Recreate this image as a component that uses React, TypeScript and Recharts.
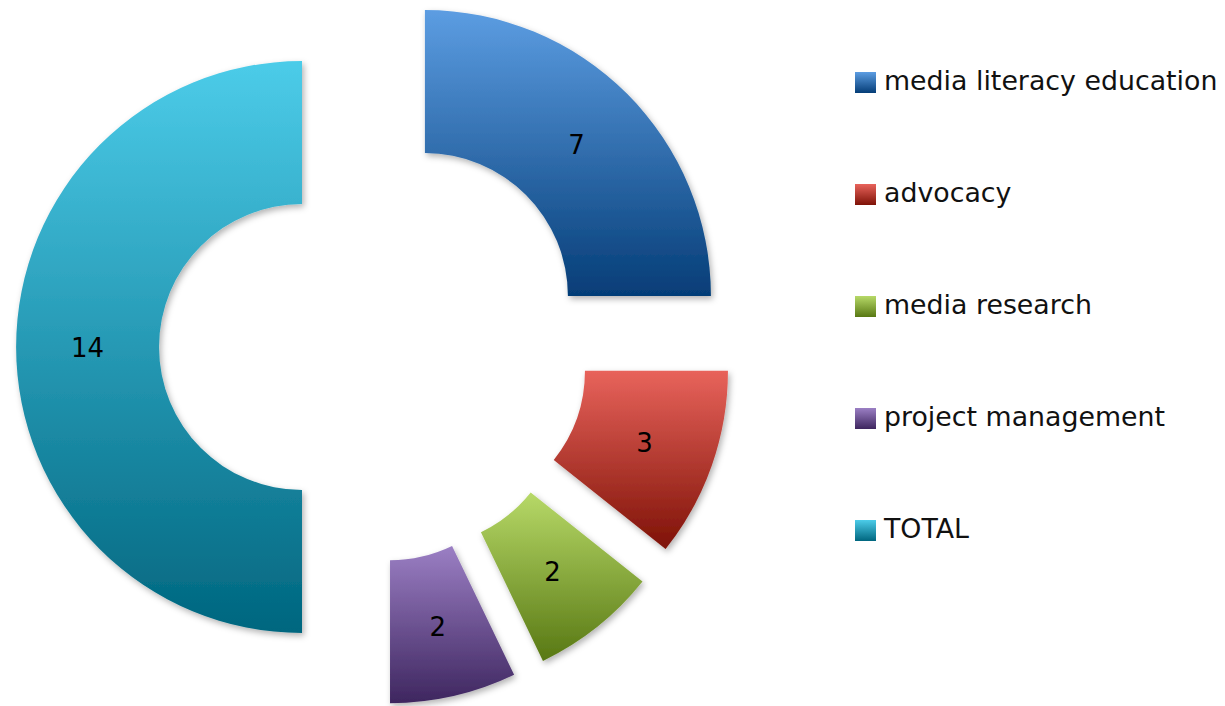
import { PieChart, Pie, Cell, Legend } from "recharts";

const CATEGORIES = ["media literacy education", "advocacy", "media research", "project management", "TOTAL"];
const VALUES = [7, 3, 2, 2, 14];
const TOP_COLORS = ["#5c9de2", "#e8635b", "#b7d968", "#9b7fc4", "#4ccce9"];
const BOTTOM_COLORS = ["#053d77", "#7e1207", "#587813", "#3e265f", "#00667f"];

const data = CATEGORIES.map((name, i) => ({ name, value: VALUES[i] }));
const total = VALUES.reduce((a, b) => a + b, 0);

const CX = 374;
const CY = 347;
const INNER = 143;
const OUTER = 286;
const EXPLODE = 72;
const RADIAN = Math.PI / 180;

// mid angle of each slice (degrees, recharts convention: 90 = top, clockwise)
const midAngles = VALUES.map((v, i) => {
  const before = VALUES.slice(0, i).reduce((a, b) => a + b, 0);
  return 90 - (360 * (before + v / 2)) / total;
});

function LegendBox() {
  return (
    <div style={{ fontFamily: "'DejaVu Sans', sans-serif", fontSize: 26.8, color: "#111" }}>
      {CATEGORIES.map((c, i) => (
        <div key={c} style={{ display: "flex", alignItems: "center", height: 112 }}>
          <div style={{
            width: 21,
            height: 21,
            marginRight: 8,
            marginTop: 4,
            background: `linear-gradient(${TOP_COLORS[i]}, ${BOTTOM_COLORS[i]})`,
          }} />
          <span>{c}</span>
        </div>
      ))}
    </div>
  );
}

export default function App() {
  return (
    <div style={{ position: "absolute", left: 0, top: 0, width: 1225, height: 706, background: "#fff" }}>
      <PieChart width={1225} height={706} margin={{ top: 0, right: 0, bottom: 0, left: 0 }}>
        <defs>
          {CATEGORIES.map((c, i) => (
            <linearGradient key={c} id={`grad-${i}`} x1="0" y1="0" x2="0" y2="1">
              <stop offset="0%" stopColor={TOP_COLORS[i]} />
              <stop offset="100%" stopColor={BOTTOM_COLORS[i]} />
            </linearGradient>
          ))}
          <filter id="shadow" x="-10%" y="-10%" width="130%" height="130%">
            <feDropShadow dx="2" dy="3" stdDeviation="3" floodColor="#000" floodOpacity="0.3" />
          </filter>
        </defs>
        {/* one pie per slice so each can be pulled out along its mid angle */}
        {CATEGORIES.map((c, k) => (
          <Pie
            key={c}
            data={data}
            dataKey="value"
            nameKey="name"
            cx={CX + EXPLODE * Math.cos(midAngles[k] * RADIAN)}
            cy={CY - EXPLODE * Math.sin(midAngles[k] * RADIAN)}
            innerRadius={INNER}
            outerRadius={OUTER}
            startAngle={90}
            endAngle={-270}
            stroke="none"
            labelLine={false}
            isAnimationActive={false}
            label={(p: any) => {
              if (p.name !== c) return null;
              const r = (p.innerRadius + p.outerRadius) / 2;
              const x = p.cx + r * Math.cos(-p.midAngle * RADIAN);
              const y = p.cy + r * Math.sin(-p.midAngle * RADIAN);
              return (
                <text x={x} y={y + 1} textAnchor="middle" dominantBaseline="central"
                  fill="#000" fontSize={26} fontFamily="'DejaVu Sans', sans-serif">
                  {p.value}
                </text>
              );
            }}
          >
            {data.map((d, i) => (
              <Cell key={d.name} fill={i === k ? `url(#grad-${i})` : "none"}
                filter={i === k ? "url(#shadow)" : undefined} />
            ))}
          </Pie>
        ))}
        <Legend
          layout="vertical"
          align="right"
          verticalAlign="top"
          wrapperStyle={{ left: 855, top: 24, width: 370 }}
          content={() => <LegendBox />}
        />
      </PieChart>
    </div>
  );
}
